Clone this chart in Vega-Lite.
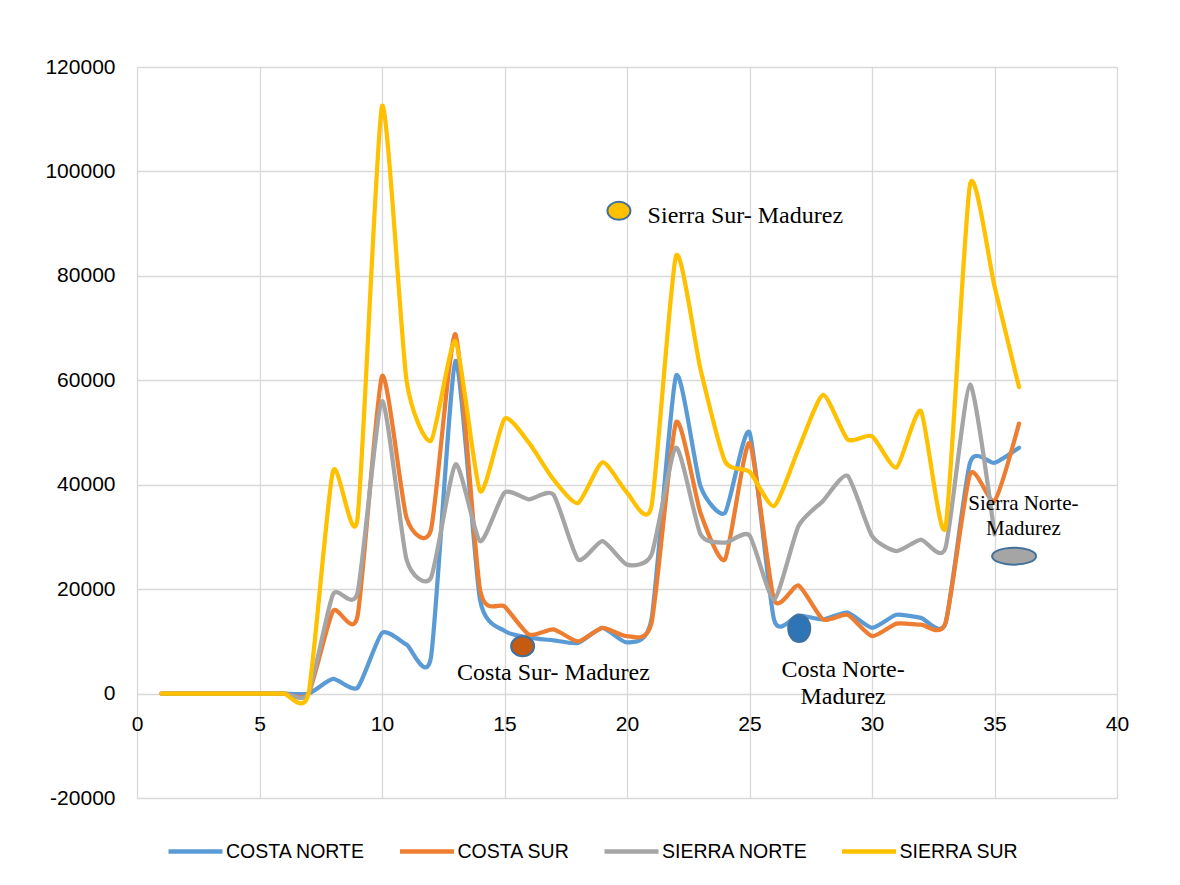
{
  "$schema": "https://vega.github.io/schema/vega-lite/v6.json",
  "width": 980,
  "height": 731,
  "autosize": {"type": "none"},
  "padding": {"left": 137, "top": 67, "right": 63, "bottom": 87},
  "background": "#ffffff",
  "config": {
    "view": {"stroke": null},
    "axis": {
      "domain": false,
      "ticks": false,
      "grid": true,
      "gridColor": "#D9D9D9",
      "gridWidth": 1.3,
      "labelFont": "Liberation Sans",
      "labelFontSize": 21,
      "labelColor": "#000000",
      "labelFlush": false,
      "labelOverlap": false,
      "title": null
    },
    "legend": {
      "labelFont": "Liberation Sans",
      "labelFontSize": 19.5,
      "labelColor": "#000000"
    }
  },
  "datasets": {
    "series": [
      {"x": 1, "COSTA NORTE": 0, "COSTA SUR": 0, "SIERRA NORTE": 0, "SIERRA SUR": 0},
      {"x": 2, "COSTA NORTE": 0, "COSTA SUR": 0, "SIERRA NORTE": 0, "SIERRA SUR": 0},
      {"x": 3, "COSTA NORTE": 0, "COSTA SUR": 0, "SIERRA NORTE": 0, "SIERRA SUR": 0},
      {"x": 4, "COSTA NORTE": 0, "COSTA SUR": 0, "SIERRA NORTE": 0, "SIERRA SUR": 0},
      {"x": 5, "COSTA NORTE": 0, "COSTA SUR": 0, "SIERRA NORTE": 0, "SIERRA SUR": 0},
      {"x": 6, "COSTA NORTE": 0, "COSTA SUR": 0, "SIERRA NORTE": 0, "SIERRA SUR": 0},
      {"x": 7, "COSTA NORTE": 0, "COSTA SUR": 0, "SIERRA NORTE": 0, "SIERRA SUR": 0},
      {"x": 8, "COSTA NORTE": 2800, "COSTA SUR": 15800, "SIERRA NORTE": 19000, "SIERRA SUR": 42600},
      {"x": 9, "COSTA NORTE": 1100, "COSTA SUR": 14800, "SIERRA NORTE": 19300, "SIERRA SUR": 33500},
      {"x": 10, "COSTA NORTE": 11600, "COSTA SUR": 60800, "SIERRA NORTE": 56000, "SIERRA SUR": 112500},
      {"x": 11, "COSTA NORTE": 9400, "COSTA SUR": 33700, "SIERRA NORTE": 25700, "SIERRA SUR": 60000},
      {"x": 12, "COSTA NORTE": 7000, "COSTA SUR": 31400, "SIERRA NORTE": 22200, "SIERRA SUR": 48400},
      {"x": 13, "COSTA NORTE": 63700, "COSTA SUR": 68800, "SIERRA NORTE": 43900, "SIERRA SUR": 67500},
      {"x": 14, "COSTA NORTE": 18000, "COSTA SUR": 19900, "SIERRA NORTE": 29200, "SIERRA SUR": 38800},
      {"x": 15, "COSTA NORTE": 12000, "COSTA SUR": 16700, "SIERRA NORTE": 38500, "SIERRA SUR": 52600},
      {"x": 16, "COSTA NORTE": 10700, "COSTA SUR": 11300, "SIERRA NORTE": 37200, "SIERRA SUR": 48000},
      {"x": 17, "COSTA NORTE": 10200, "COSTA SUR": 12300, "SIERRA NORTE": 38100, "SIERRA SUR": 41000},
      {"x": 18, "COSTA NORTE": 9700, "COSTA SUR": 10000, "SIERRA NORTE": 25700, "SIERRA SUR": 36500},
      {"x": 19, "COSTA NORTE": 12600, "COSTA SUR": 12600, "SIERRA NORTE": 29200, "SIERRA SUR": 44300},
      {"x": 20, "COSTA NORTE": 9800, "COSTA SUR": 11000, "SIERRA NORTE": 24700, "SIERRA SUR": 38500},
      {"x": 21, "COSTA NORTE": 14200, "COSTA SUR": 13500, "SIERRA NORTE": 26600, "SIERRA SUR": 35900},
      {"x": 22, "COSTA NORTE": 60800, "COSTA SUR": 51900, "SIERRA NORTE": 47100, "SIERRA SUR": 83800},
      {"x": 23, "COSTA NORTE": 39700, "COSTA SUR": 34600, "SIERRA NORTE": 30500, "SIERRA SUR": 62100},
      {"x": 24, "COSTA NORTE": 34600, "COSTA SUR": 25700, "SIERRA NORTE": 28900, "SIERRA SUR": 44500},
      {"x": 25, "COSTA NORTE": 50000, "COSTA SUR": 48000, "SIERRA NORTE": 30300, "SIERRA SUR": 42500},
      {"x": 26, "COSTA NORTE": 14200, "COSTA SUR": 18000, "SIERRA NORTE": 18000, "SIERRA SUR": 35900},
      {"x": 27, "COSTA NORTE": 15000, "COSTA SUR": 20700, "SIERRA NORTE": 32100, "SIERRA SUR": 46800},
      {"x": 28, "COSTA NORTE": 14200, "COSTA SUR": 14200, "SIERRA NORTE": 36900, "SIERRA SUR": 57200},
      {"x": 29, "COSTA NORTE": 15500, "COSTA SUR": 15100, "SIERRA NORTE": 41700, "SIERRA SUR": 48700},
      {"x": 30, "COSTA NORTE": 12600, "COSTA SUR": 11000, "SIERRA NORTE": 30200, "SIERRA SUR": 49300},
      {"x": 31, "COSTA NORTE": 15100, "COSTA SUR": 13400, "SIERRA NORTE": 27300, "SIERRA SUR": 43300},
      {"x": 32, "COSTA NORTE": 14500, "COSTA SUR": 13200, "SIERRA NORTE": 29500, "SIERRA SUR": 54100},
      {"x": 33, "COSTA NORTE": 13500, "COSTA SUR": 13500, "SIERRA NORTE": 27900, "SIERRA SUR": 31800},
      {"x": 34, "COSTA NORTE": 44200, "COSTA SUR": 42000, "SIERRA NORTE": 59200, "SIERRA SUR": 97500},
      {"x": 35, "COSTA NORTE": 44200, "COSTA SUR": 36900, "SIERRA NORTE": 30500, "SIERRA SUR": 78000},
      {"x": 36, "COSTA NORTE": 47100, "COSTA SUR": 51700, "SIERRA NORTE": null, "SIERRA SUR": 58700}
    ],
    "markers": [
      {"name": "Sierra Sur", "x": 19.67, "y": 92450},
      {"name": "Costa Sur", "x": 15.74, "y": 9070},
      {"name": "Costa Norte", "x": 27.03, "y": 12460},
      {"name": "Sierra Norte", "x": 35.8, "y": 26320}
    ],
    "notes": [
      {"name": "Sierra Sur", "text": "Sierra Sur- Madurez", "x": 24.83, "y": 91440},
      {"name": "Costa Sur", "text": "Costa Sur- Madurez", "x": 17.0, "y": 4030},
      {"name": "Costa Norte", "text": "Costa Norte-\nMadurez", "x": 28.82, "y": 4600},
      {"name": "Sierra Norte", "text": "Sierra Norte-\nMadurez", "x": 36.18, "y": 36230}
    ]
  },
  "layer": [
    {
      "data": {"name": "series"},
      "transform": [
        {"fold": ["COSTA NORTE", "COSTA SUR", "SIERRA NORTE", "SIERRA SUR"], "as": ["region", "value"]},
        {"filter": "datum.value != null"}
      ],
      "mark": {
        "type": "line",
        "interpolate": "cardinal",
        "tension": 0.4,
        "strokeWidth": 4.25,
        "strokeCap": "round",
        "strokeJoin": "round"
      },
      "encoding": {
        "x": {
          "field": "x",
          "type": "quantitative",
          "scale": {"domain": [0, 40], "nice": false, "zero": false},
          "axis": {
            "values": [0, 5, 10, 15, 20, 25, 30, 35, 40],
            "labelPadding": 20,
            "offset": -104.43
          }
        },
        "y": {
          "field": "value",
          "type": "quantitative",
          "scale": {"domain": [-20000, 120000], "nice": false},
          "axis": {
            "values": [-20000, 0, 20000, 40000, 60000, 80000, 100000, 120000],
            "labelPadding": 22,
            "labelExpr": "'' + datum.value"
          }
        },
        "color": {
          "field": "region",
          "type": "nominal",
          "scale": {
            "domain": ["COSTA NORTE", "COSTA SUR", "SIERRA NORTE", "SIERRA SUR"],
            "range": ["#5B9BD5", "#ED7D31", "#A5A5A5", "#FFC000"]
          },
          "legend": {
            "title": null,
            "orient": "none",
            "direction": "horizontal",
            "legendX": 29,
            "legendY": 755,
            "padding": 0,
            "symbolType": "stroke",
            "symbolSize": 2916,
            "symbolStrokeWidth": 4.5,
            "labelOffset": 1,
            "columnPadding": 24.5
          }
        }
      }
    },
    {
      "data": {"name": "markers"},
      "mark": {"type": "point", "filled": true, "opacity": 1, "size": 4, "stroke": "#41719C", "strokeWidth": 2},
      "encoding": {
        "x": {"field": "x", "type": "quantitative"},
        "y": {"field": "y", "type": "quantitative"},
        "fill": {
          "field": "name",
          "type": "nominal",
          "scale": {
            "domain": ["Sierra Sur", "Costa Sur", "Costa Norte", "Sierra Norte"],
            "range": ["#FFC000", "#C55A11", "#2E75B6", "#A5A5A5"]
          },
          "legend": null
        },
        "shape": {
          "field": "name",
          "type": "nominal",
          "scale": {
            "domain": ["Sierra Sur", "Costa Sur", "Costa Norte", "Sierra Norte"],
            "range": [
              "M-11.5,0C-11.5,-4.97,-6.35,-9,0,-9C6.35,-9,11.5,-4.97,11.5,0C11.5,4.97,6.35,9,0,9C-6.35,9,-11.5,4.97,-11.5,0Z",
              "M-11.5,0C-11.5,-5.52,-6.35,-10,0,-10C6.35,-10,11.5,-5.52,11.5,0C11.5,5.52,6.35,10,0,10C-6.35,10,-11.5,5.52,-11.5,0Z",
              "M-11,0C-11,-7.46,-6.08,-13.5,0,-13.5C6.08,-13.5,11,-7.46,11,0C11,7.46,6.08,13.5,0,13.5C-6.08,13.5,-11,7.46,-11,0Z",
              "M-22,0C-22,-4.69,-12.15,-8.5,0,-8.5C12.15,-8.5,22,-4.69,22,0C22,4.69,12.15,8.5,0,8.5C-12.15,8.5,-22,4.69,-22,0Z"
            ]
          },
          "legend": null
        }
      }
    },
    {
      "data": {"name": "notes"},
      "transform": [{"filter": "datum.name != 'Sierra Norte'"}],
      "mark": {
        "type": "text",
        "font": "Liberation Serif",
        "fontSize": 24,
        "lineBreak": "\n",
        "lineHeight": 27,
        "align": "center",
        "baseline": "middle",
        "color": "#000000"
      },
      "encoding": {
        "x": {"field": "x", "type": "quantitative"},
        "y": {"field": "y", "type": "quantitative"},
        "text": {"field": "text"}
      }
    },
    {
      "data": {"name": "notes"},
      "transform": [{"filter": "datum.name == 'Sierra Norte'"}],
      "mark": {
        "type": "text",
        "font": "Liberation Serif",
        "fontSize": 21,
        "lineBreak": "\n",
        "lineHeight": 25,
        "align": "center",
        "baseline": "middle",
        "color": "#000000"
      },
      "encoding": {
        "x": {"field": "x", "type": "quantitative"},
        "y": {"field": "y", "type": "quantitative"},
        "text": {"field": "text"}
      }
    }
  ]
}
